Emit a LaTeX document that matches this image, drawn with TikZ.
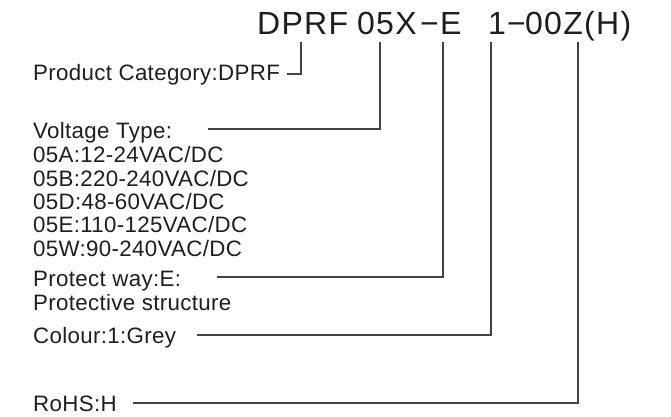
\documentclass[tikz,border=0pt]{standalone}
\usepackage{fontspec}
\setmainfont{Liberation Sans}
\newfontfamily\labfont[LetterSpace=1.5]{Liberation Sans}
\newfontfamily\titfont[LetterSpace=4]{Liberation Sans}
\definecolor{ink}{HTML}{1E1E1E}
\definecolor{wire}{HTML}{444444}
\tikzset{
  lab/.style={inner sep=0pt, anchor=base west, text=ink, font=\labfont\fontsize{22.3}{26}\selectfont},
  tit/.style={inner sep=0pt, anchor=base west, text=ink, font=\titfont\fontsize{32}{38}\selectfont},
  wireline/.style={draw=wire, line width=1.4pt}
}
\begin{document}
\begin{tikzpicture}[x=1pt,y=-1pt]
\useasboundingbox (0,0) rectangle (671,417);
% title
\node[tit] (t1) at (257,35) {DPRF};
\node[tit] (t2) at (357,35) {05X};
\node[tit] (t3) at (420,35) {−};
\node[tit] (t4) at (440,35) {E};
\node[tit] (t5) at (488,35) {1};
\node[tit] (t6) at (507,35) {−};
\node[tit] (t7) at (525,35) {00Z(H)};
% labels
\node[lab] (pc) at (33,81) {Product Category:DPRF};
\node[lab] (vt) at (33,138) {Voltage Type:};
\node[lab] (va) at (33,162) {05A:12-24VAC/DC};
\node[lab] (vb) at (33,186) {05B:220-240VAC/DC};
\node[lab] (vd) at (33,209) {05D:48-60VAC/DC};
\node[lab] (ve) at (33,232) {05E:110-125VAC/DC};
\node[lab] (vw) at (33,256) {05W:90-240VAC/DC};
\node[lab] (pw) at (33,286) {Protect way:E:};
\node[lab] (ps) at (33,310) {Protective structure};
\node[lab] (co) at (33,343) {Colour:1:Grey};
\node[lab] (ro) at (33,411) {RoHS:H};
% connector ends
\coordinate (a1) at (301,42);
\coordinate (a2) at (380,42);
\coordinate (a3) at (443,42);
\coordinate (a4) at (491,42);
\coordinate (a5) at (578,42);
\coordinate (e1) at (287,74);
\coordinate (e2) at (208,129);
\coordinate (e3) at (217,277);
\coordinate (e4) at (197,335);
\coordinate (e5) at (133,403);
\draw[wireline] (e1) -| (a1);
\draw[wireline] (e2) -| (a2);
\draw[wireline] (e3) -| (a3);
\draw[wireline] (e4) -| (a4);
\draw[wireline] (e5) -| (a5);
\end{tikzpicture}
\end{document}
